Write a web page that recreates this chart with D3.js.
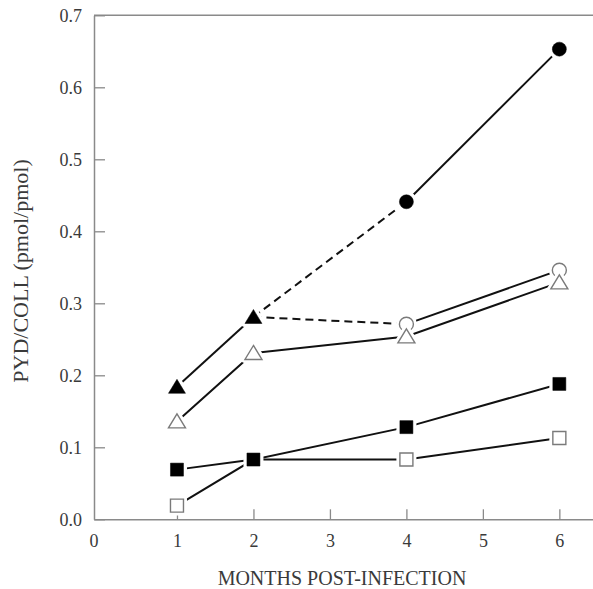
<!DOCTYPE html>
<html><head><meta charset="utf-8">
<script src="https://cdn.jsdelivr.net/npm/d3@7"></script>
<style>
body{margin:0;background:#fff}
text{font-family:"Liberation Serif","DejaVu Serif",serif}
</style>
</head><body>
<svg id="c" width="593" height="589"></svg>
<script>
// ---- data ----
const xTicks = [1, 2, 3, 4, 5, 6];
const yTicks = [0, 0.1, 0.2, 0.3, 0.4, 0.5, 0.6, 0.7];
const xTitle = "MONTHS POST-INFECTION";
const yTitle = "PYD/COLL (pmol/pmol)";

// filled triangles (months 1-2)
const filledTriMonths = [1, 2];
const filledTriValues = [0.184, 0.281];
// filled circles (months 4-6), joined to filled triangle at 2 by dashed line
const filledCircMonths = [4, 6];
const filledCircValues = [0.441, 0.653];
// open circles (months 4-6), joined to filled triangle at 2 by dashed line
const openCircMonths = [4, 6];
const openCircValues = [0.271, 0.346];
// open triangles
const openTriMonths = [1, 2, 4, 6];
const openTriValues = [0.136, 0.231, 0.254, 0.329];
// filled squares
const filledSqMonths = [1, 2, 4, 6];
const filledSqValues = [0.069, 0.083, 0.128, 0.188];
// open squares (line passes through filled square at month 2)
const openSqMonths = [1, 4, 6];
const openSqValues = [0.019, 0.083, 0.113];
const openSqLineMonths = [1, 2, 4, 6];
const openSqLineValues = [0.019, 0.083, 0.083, 0.113];

// ---- scales ----
const svg = d3.select("#c");
const x = d3.scaleLinear().domain([-0.085, 6.44]).range([94, 593]);
const y = d3.scaleLinear().domain([0, 0.7]).range([519.3, 15.3]);

const axisCol = "#8a8a8a", textCol = "#3a3a3a";

// frame lines
const g = svg.append("g");
g.append("line").attr("x1", x.range()[0]).attr("x2", x.range()[1])
  .attr("y1", y(0.7)).attr("y2", y(0.7)).attr("stroke", axisCol).attr("stroke-width", 1.5);

// y axis
const ya = svg.append("g").attr("transform", `translate(${x.range()[0]},0)`)
  .call(d3.axisLeft(y).tickValues(yTicks).tickSize(-11).tickSizeOuter(0)
    .tickPadding(12).tickFormat(d3.format(".1f")));
ya.select(".domain").attr("stroke", axisCol).attr("stroke-width", 1.5);
ya.selectAll(".tick line").attr("stroke", axisCol).attr("stroke-width", 1.3);
ya.selectAll(".tick text").attr("fill", textCol).style("font-size", "18px")
  .style("font-family", '"Liberation Serif",serif');

// x axis
const xa = svg.append("g").attr("transform", `translate(0,${y(0)})`)
  .call(d3.axisBottom(x).tickValues(xTicks).tickSize(-10).tickSizeOuter(0)
    .tickPadding(15).tickFormat(d3.format("d")));
xa.select(".domain").attr("stroke", axisCol).attr("stroke-width", 1.5);
xa.selectAll(".tick line").attr("stroke", axisCol).attr("stroke-width", 1.3);
xa.selectAll(".tick text").attr("fill", textCol).style("font-size", "18px")
  .style("font-family", '"Liberation Serif",serif');
// origin label "0"
xa.append("text").attr("x", x.domain()[0] < 0 ? x(x.domain()[0]) : x(0))
  .attr("y", 15).attr("dy", "0.71em").attr("text-anchor", "middle")
  .attr("fill", textCol).style("font-size", "18px").text("0");

// titles
svg.append("text").attr("x", 342).attr("y", 585).attr("text-anchor", "middle")
  .attr("fill", textCol).style("font-size", "20px").text(xTitle);
svg.append("text").attr("transform", "translate(28,271) rotate(-90)")
  .attr("text-anchor", "middle").attr("fill", textCol)
  .style("font-size", "22px").text(yTitle);

// ---- lines ----
const line = d3.line().x(d => x(d[0])).y(d => y(d[1]));
const zip = (a, b) => a.map((v, i) => [v, b[i]]);
const lw = 2;
function drawLine(pts, dashed) {
  svg.append("path").attr("d", line(pts)).attr("fill", "none")
    .attr("stroke", "#111").attr("stroke-width", lw)
    .attr("stroke-dasharray", dashed ? "8,5" : null);
}
drawLine(zip(filledTriMonths, filledTriValues));
drawLine([[filledTriMonths[1], filledTriValues[1]], [filledCircMonths[0], filledCircValues[0]]], true);
drawLine([[filledTriMonths[1], filledTriValues[1]], [openCircMonths[0], openCircValues[0]]], true);
drawLine(zip(filledCircMonths, filledCircValues));
drawLine(zip(openCircMonths, openCircValues));
drawLine(zip(openTriMonths, openTriValues));
drawLine(zip(filledSqMonths, filledSqValues));
drawLine(zip(openSqLineMonths, openSqLineValues));

// ---- markers ----
const shapes = {
  circle: () => d3.path ? "M7,0A7,7 0 1,1 -7,0A7,7 0 1,1 7,0Z" : "",
  square: () => "M-6.5,-6.5H6.5V6.5H-6.5Z",
  triangle: () => "M0,-7.5L8.5,6.5H-8.5Z"
};
function drawMarkers(months, values, shape, filled) {
  const grp = svg.append("g");
  const pts = zip(months, values);
  // white halo for the gap around each marker
  grp.selectAll(".halo").data(pts).join("path")
    .attr("transform", d => `translate(${x(d[0])},${y(d[1])})`)
    .attr("d", shapes[shape]()).attr("fill", "#fff")
    .attr("stroke", "#fff").attr("stroke-width", 7).attr("stroke-linejoin", "round");
  grp.selectAll(".mk").data(pts).join("path")
    .attr("transform", d => `translate(${x(d[0])},${y(d[1])})`)
    .attr("d", shapes[shape]())
    .attr("fill", filled ? "#000" : "#fff")
    .attr("stroke", filled ? "#000" : "#7a7a7a")
    .attr("stroke-width", filled ? 0.5 : 1.4);
}
drawMarkers(filledCircMonths, filledCircValues, "circle", true);
drawMarkers(openCircMonths, openCircValues, "circle", false);
drawMarkers(openTriMonths, openTriValues, "triangle", false);
drawMarkers(filledTriMonths, filledTriValues, "triangle", true);
drawMarkers(filledSqMonths, filledSqValues, "square", true);
drawMarkers(openSqMonths, openSqValues, "square", false);
</script>
</body></html>
